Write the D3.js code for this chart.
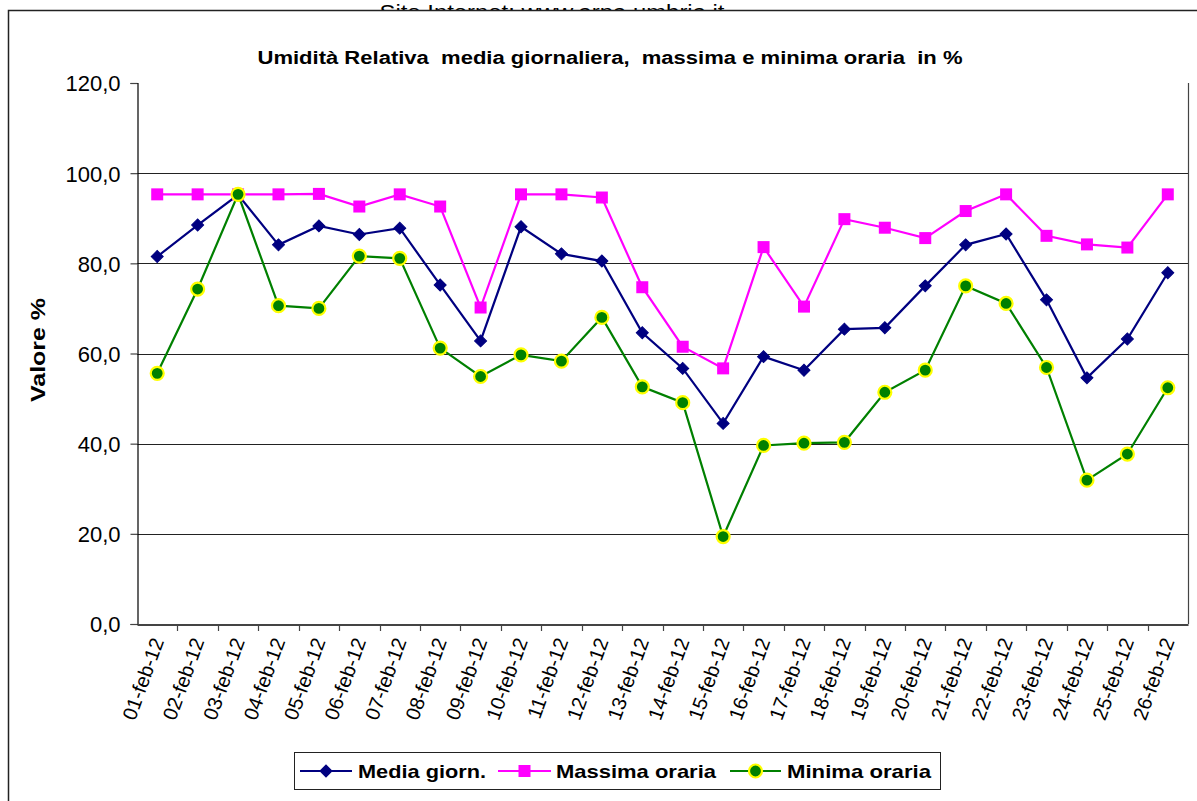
<!DOCTYPE html>
<html>
<head>
<meta charset="utf-8">
<script src="https://cdn.jsdelivr.net/npm/d3@7"></script>
<style>
  html, body { margin: 0; padding: 0; background: #fff; }
  svg { display: block; font-family: "Liberation Sans", Arial, sans-serif; }
  .pre { white-space: pre; }
</style>
</head>
<body>
<svg id="chart" width="1197" height="801"></svg>
<script>
const categories = ["01-feb-12","02-feb-12","03-feb-12","04-feb-12","05-feb-12","06-feb-12","07-feb-12","08-feb-12","09-feb-12","10-feb-12","11-feb-12","12-feb-12","13-feb-12","14-feb-12","15-feb-12","16-feb-12","17-feb-12","18-feb-12","19-feb-12","20-feb-12","21-feb-12","22-feb-12","23-feb-12","24-feb-12","25-feb-12","26-feb-12"];
const media   = [81.5, 88.5, 95.2, 84.1, 88.3, 86.4, 87.8, 75.2, 62.8, 88.1, 82.1, 80.5, 64.6, 56.7, 44.5, 59.3, 56.3, 65.4, 65.7, 75.0, 84.1, 86.5, 71.9, 54.6, 63.2, 77.9];
const massima = [95.3, 95.3, 95.3, 95.3, 95.4, 92.6, 95.3, 92.6, 70.2, 95.3, 95.3, 94.6, 74.7, 61.5, 56.7, 83.6, 70.4, 89.8, 87.9, 85.6, 91.6, 95.3, 86.1, 84.2, 83.5, 95.3];
const minima  = [55.6, 74.3, 95.3, 70.6, 70.0, 81.6, 81.1, 61.2, 54.9, 59.7, 58.3, 68.0, 52.6, 49.1, 19.4, 39.6, 40.1, 40.3, 51.4, 56.3, 75.0, 71.1, 56.9, 31.9, 37.7, 52.4];
const yTicks = [0, 20, 40, 60, 80, 100, 120];
const seriesNames = ["Media giorn.", "Massima oraria", "Minima oraria"];
const titleText = "Umidità Relativa  media giornaliera,  massima e minima oraria  in %";
const yTitle = "Valore %";
const headerText = "Sito Internet: www.arpa.umbria.it";

const svg = d3.select("#chart");

// header text partly hidden behind chart area
svg.append("text").attr("x", 552).attr("y", 19).attr("text-anchor", "middle")
  .attr("font-size", 20).attr("fill", "#000")
  .attr("textLength", 345).attr("lengthAdjust", "spacingAndGlyphs").text(headerText);

// chart area
svg.append("rect").attr("x", 8.5).attr("y", 10.5).attr("width", 1200).attr("height", 800)
  .attr("fill", "#fff").attr("stroke", "#222").attr("stroke-width", 1.5);

const plot = { left: 137, right: 1188, top: 83, bottom: 624 };
const x = d3.scaleBand().domain(categories).range([plot.left, plot.right]).padding(0);
const y = d3.scaleLinear().domain([0, 120]).range([plot.bottom, plot.top]);
const cx = d => x(d) + x.bandwidth() / 2;

// gridlines
svg.append("g").selectAll("line").data(yTicks.filter(t => t > 0 && t < 120)).join("line")
  .attr("x1", plot.left).attr("x2", plot.right)
  .attr("y1", d => Math.round(y(d)) + 0.5).attr("y2", d => Math.round(y(d)) + 0.5)
  .attr("stroke", "#222").attr("stroke-width", 1);

// plot right border
svg.append("line").attr("x1", plot.right + 0.5).attr("x2", plot.right + 0.5)
  .attr("y1", plot.top).attr("y2", plot.bottom).attr("stroke", "#444").attr("stroke-width", 1.2);

// y axis
const fmt = d3.format(".1f");
const yAxis = d3.axisLeft(y).tickValues(yTicks).tickSize(7).tickPadding(10)
  .tickFormat(d => fmt(d).replace(".", ","));
const gy = svg.append("g").attr("transform", `translate(${plot.left + 0.5},0)`).call(yAxis);
gy.select(".domain").attr("stroke", "#000").attr("stroke-width", 1.2);
gy.selectAll(".tick line").attr("stroke", "#444").attr("stroke-width", 1.2);
gy.selectAll(".tick text").attr("font-size", 22).attr("fill", "#000")
  .attr("font-family", "Liberation Sans, Arial, sans-serif").attr("dy", "0.36em");

// x axis
const xAxis = d3.axisBottom(x).tickSize(0).tickFormat("");
const gx = svg.append("g").attr("transform", `translate(0,${plot.bottom + 0.5})`).call(xAxis);
gx.select(".domain").attr("stroke", "#444").attr("stroke-width", 2);
gx.selectAll(".tick").remove();
// boundary ticks
svg.append("g").selectAll("line").data(categories.slice(1)).join("line")
  .attr("x1", d => Math.round(x(d)) + 0.5).attr("x2", d => Math.round(x(d)) + 0.5)
  .attr("y1", plot.bottom).attr("y2", plot.bottom + 7)
  .attr("stroke", "#444").attr("stroke-width", 1.2);
// x labels
svg.append("g").selectAll("text").data(categories).join("text")
  .attr("transform", d => `translate(${cx(d) + 7},${plot.bottom + 17}) rotate(-70)`)
  .attr("text-anchor", "end").attr("font-size", 20).attr("fill", "#000")
  .text(d => d);

// title
svg.append("text").attr("class", "pre").attr("x", 610).attr("y", 64).attr("text-anchor", "middle")
  .attr("font-size", 18).attr("font-weight", "bold").attr("fill", "#000")
  .attr("textLength", 705).attr("lengthAdjust", "spacingAndGlyphs").text(titleText);

// y title
svg.append("text").attr("transform", "translate(45,350) rotate(-90)")
  .attr("text-anchor", "middle").attr("font-size", 21).attr("font-weight", "bold")
  .attr("textLength", 104).attr("lengthAdjust", "spacingAndGlyphs").text(yTitle);

// series
const series = [
  { name: seriesNames[0], values: media, color: "#000080", marker: "diamond" },
  { name: seriesNames[1], values: massima, color: "#FF00FF", marker: "square" },
  { name: seriesNames[2], values: minima, color: "#008000", marker: "circle" }
];
const line = d3.line().x((d, i) => cx(categories[i])).y(d => y(d));

function drawMarker(g, type, color) {
  if (type === "diamond") {
    g.append("path").attr("d", d3.symbol().type(d3.symbolSquare).size(72)())
      .attr("transform", "rotate(45)").attr("fill", color).attr("stroke", color).attr("stroke-width", 1);
  } else if (type === "square") {
    g.append("path").attr("d", d3.symbol().type(d3.symbolSquare).size(144)())
      .attr("fill", color).attr("stroke", "none");
  } else {
    g.append("circle").attr("r", 6.5).attr("fill", color).attr("stroke", "#FFFF00").attr("stroke-width", 2.2);
  }
}

series.forEach(s => {
  svg.append("path").datum(s.values).attr("d", line)
    .attr("fill", "none").attr("stroke", s.color).attr("stroke-width", 2.2);
  const gm = svg.append("g");
  s.values.forEach((v, i) => {
    const g = gm.append("g").attr("transform", `translate(${cx(categories[i])},${y(v)})`);
    drawMarker(g, s.marker, s.color);
  });
});

// legend
const lg = svg.append("g");
lg.append("rect").attr("x", 294.5).attr("y", 752.5).attr("width", 646).attr("height", 37)
  .attr("fill", "#fff").attr("stroke", "#222").attr("stroke-width", 1);
const legendItems = [
  { s: series[0], x0: 300, x1: 352, tx: 358, tw: 128 },
  { s: series[1], x0: 498, x1: 551, tx: 556, tw: 160 },
  { s: series[2], x0: 730, x1: 781, tx: 787, tw: 144 }
];
legendItems.forEach(it => {
  const ly = 771;
  lg.append("line").attr("x1", it.x0).attr("x2", it.x1).attr("y1", ly).attr("y2", ly)
    .attr("stroke", it.s.color).attr("stroke-width", 2.2);
  const g = lg.append("g").attr("transform", `translate(${(it.x0 + it.x1) / 2},${ly})`);
  drawMarker(g, it.s.marker, it.s.color);
  lg.append("text").attr("x", it.tx).attr("y", ly + 7).attr("font-size", 19).attr("font-weight", "bold")
    .attr("textLength", it.tw).attr("lengthAdjust", "spacingAndGlyphs").text(it.s.name);
});
</script>
</body>
</html>
